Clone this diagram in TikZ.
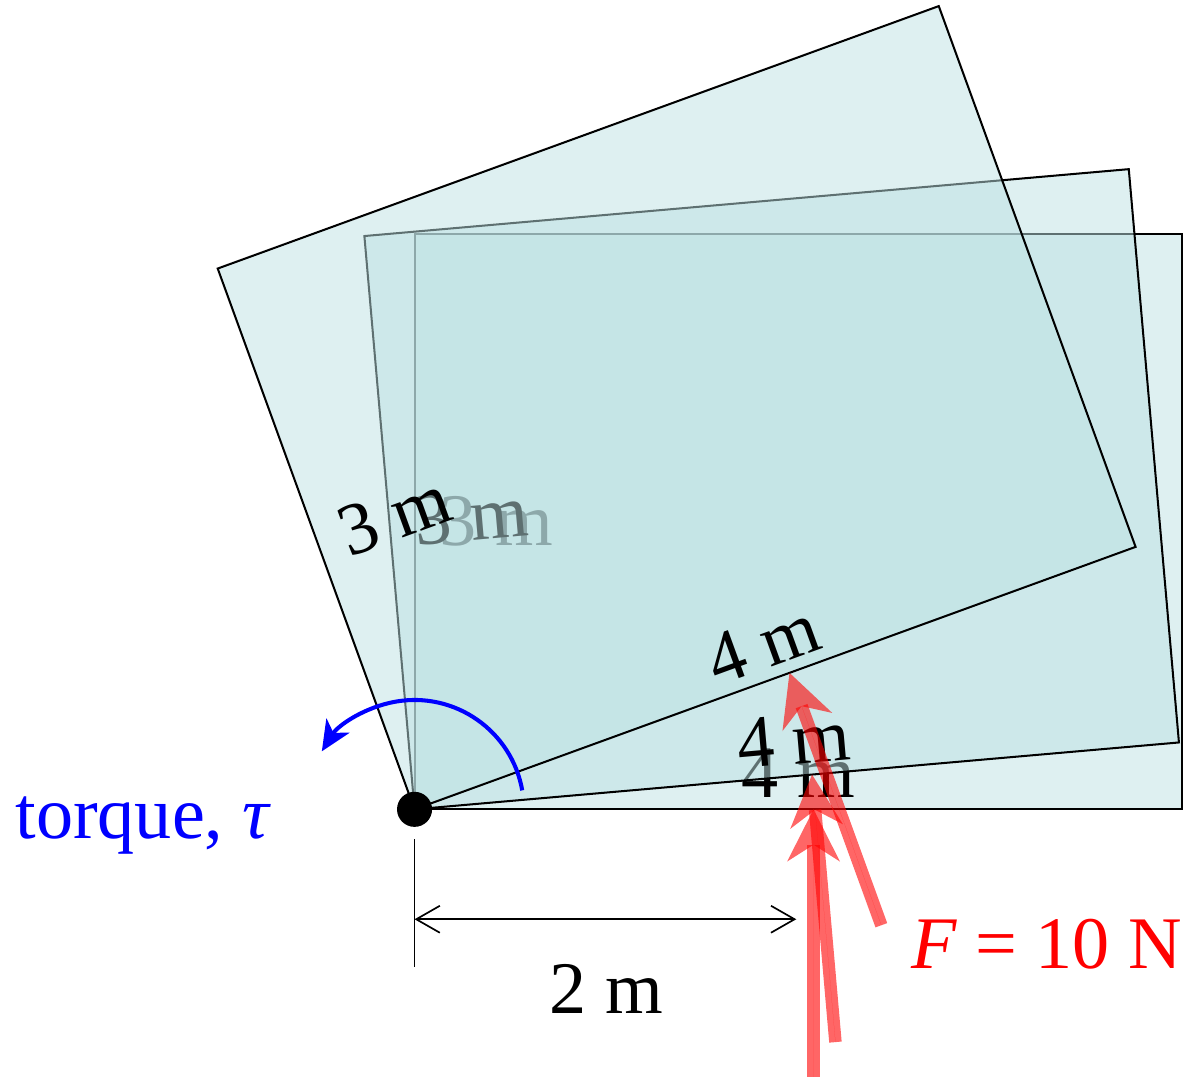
\documentclass[tikz,border=0pt]{standalone}
\usepackage{fontspec}
\setmainfont{Liberation Serif}
\usetikzlibrary{arrows.meta}

\definecolor{platefill}{RGB}{189,225,227}

\begin{document}
\begin{tikzpicture}[x=2cm, y=2cm,
    plate/.style={draw=black, line width=0.6pt, fill=platefill, fill opacity=0.5},
    lbl/.style={font=\fontsize{22}{26}\selectfont},
    force/.style={draw=red, fill=red, opacity=0.6, line width=3.7pt,
        -{Stealth[length=15.5pt, width=15.7pt, inset=5pt, line width=0pt]}},
    dimline/.style={line width=0.5pt,
        {Straight Barb[length=7pt, width=8pt]}-{Straight Barb[length=7pt, width=8pt]}},
    torque/.style={blue, line width=1.2pt, -{Stealth[length=9pt, width=8pt, inset=2.5pt]}}]

    % Frame: pivot at origin, 1 unit = 1 m
    \useasboundingbox (-2.161,-1.391) rectangle (4.006,4.219);
    \coordinate (P) at (0,0);

    % Plate, not turned
    \begin{scope}[rotate=0]
    \draw[plate] (0,0) rectangle (4,3);
    \node[lbl, right=4pt, rotate=0] (hA) at (0,1.5) {3 m};
    \node[lbl, above, rotate=0] (wA) at (2,0) {4 m};
    \coordinate (FtipA) at (2.08,0);
    \coordinate (FtailA) at (2.08,-1.4);
    \end{scope}

    % Plate turned 5 deg
    \begin{scope}[rotate=5]
    \draw[plate] (0,0) rectangle (4,3);
    \node[lbl, right=4pt, rotate=5] (hB) at (0,1.5) {3 m};
    \node[lbl, above, rotate=5] (wB) at (2,0) {4 m};
    \coordinate (FtipB) at (2.08,0);
    \coordinate (FtailB) at (2.08,-1.4);
    \end{scope}

    % Plate turned 20 deg
    \begin{scope}[rotate=20]
    \draw[plate] (0,0) rectangle (4,3);
    \node[lbl, right=4pt, rotate=20] (hC) at (0,1.5) {3 m};
    \node[lbl, above, rotate=20] (wC) at (2,0) {4 m};
    \coordinate (FtipC) at (2.08,0);
    \coordinate (FtailC) at (2.08,-1.4);
    \end{scope}

    % Torque
    \draw[torque] ([shift={(10:0.57)}]P) arc[start angle=10, end angle=148, radius=0.57];
    \node[lbl, blue, anchor=base east] (tq) at (-0.687,-0.15) {torque, \textit{τ}};

    % Lever arm
    \coordinate (extT) at (0,-0.156);
    \coordinate (extB) at (0,-0.823);
    \coordinate (dimL) at (0,-0.573);
    \coordinate (dimR) at (1.99,-0.573);
    \draw[line width=0.5pt] (extT) -- (extB);
    \draw[dimline] (dimL) -- (dimR);
    \node[lbl, below=10pt] (arm) at (1,-0.573) {2 m};

    % Forces
    \draw[force] (FtailA) -- (FtipA);
    \draw[force] (FtailB) -- (FtipB);
    \draw[force] (FtailC) -- (FtipC);
    \node[lbl, red, anchor=base west] (Flbl) at (2.526,-0.83) {\textit{F} = 10 N};

    % Pivot
    \node[circle, fill=black, inner sep=0pt, minimum size=10.4pt] (pivot) at (P) {};

\end{tikzpicture}
\end{document}
